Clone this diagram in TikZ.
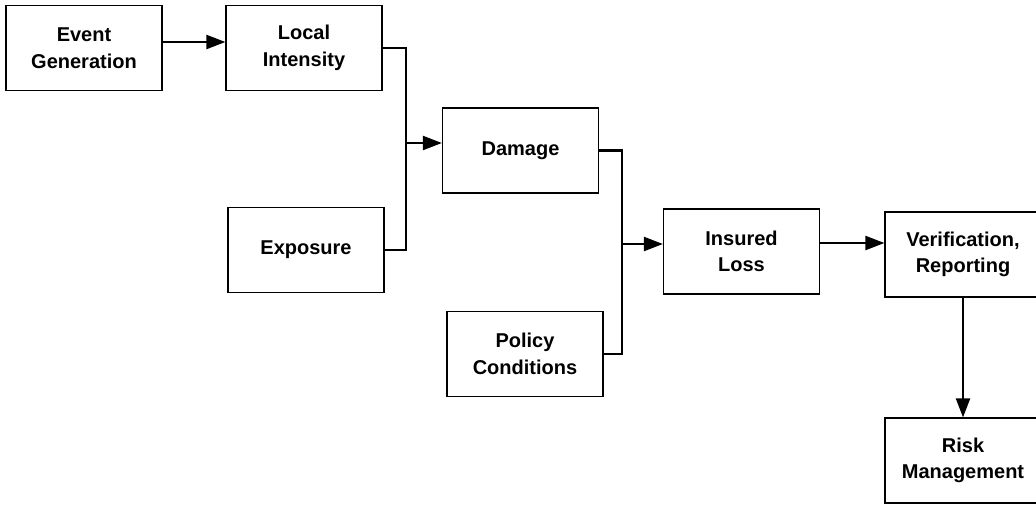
\documentclass[tikz,border=0pt]{standalone}
\usepackage{fontspec}
\setmainfont{Liberation Sans}
\usetikzlibrary{arrows.meta}

\tikzset{
  stage/.style={draw, line width=0.6pt, minimum width=78pt, minimum height=42.5pt,
    align=center, font=\bfseries\fontsize{10}{13.3}\selectfont, inner sep=0pt},
  link/.style={line width=1.1pt},
  flow/.style={link, -{Triangle[length=9.5pt,width=7pt]}},
}

\begin{document}
\begin{tikzpicture}[x=0.5pt, y=-0.5pt]
\useasboundingbox (0,0) rectangle (1036,504);
% stages
\node[stage] (event)    at (84,48)      {Event\\Generation};
\node[stage] (local)    at (304,48)     {Local\\Intensity};
\node[stage] (exposure) at (306,250)    {Exposure};
\node[stage] (damage)   at (520.5,150.5) {Damage};
\node[stage] (policy)   at (525,354)    {Policy\\Conditions};
\node[stage] (insured)  at (741.5,251.5) {Insured\\Loss};
\node[stage] (verif)    at (963,254.5)  {Verification,\\Reporting};
\node[stage] (risk)     at (963,460.5)  {Risk\\Management};
% junctions
\coordinate (joinA) at (406,143);
\coordinate (joinB) at (622,244);
% connectors
\draw[flow] ([yshift=3pt]event.east) -- ([yshift=3pt]event.east -| local.west);
\draw[link] (local.east) -| (joinA) |- (exposure.east);
\draw[flow] (joinA) -- (joinA -| damage.west);
\draw[link] (damage.east) -| (joinB) |- (policy.east);
\draw[flow] (joinB) -- (joinB -| insured.west);
\draw[flow] ([yshift=4.25pt]insured.east) -- ([yshift=4.25pt]insured.east -| verif.west);
\draw[flow] (verif.south) -- (risk.north);
\end{tikzpicture}
\end{document}
